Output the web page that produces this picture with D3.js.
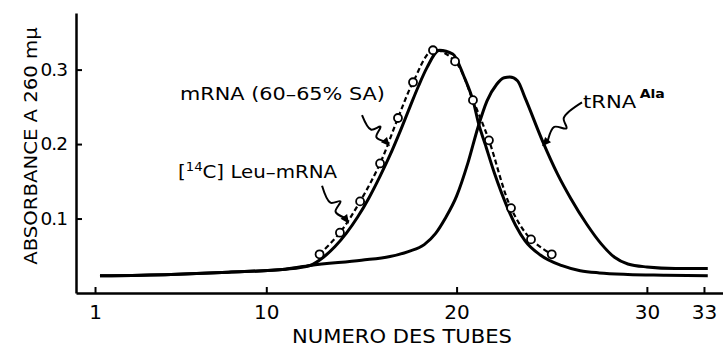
<!DOCTYPE html>
<html lang="fr">
<head>
<meta charset="UTF-8">
<title>Absorbance A 260 - numero des tubes</title>
<script src="https://d3js.org/d3.v7.min.js"></script>
<style>
  body { margin: 0; background: #fff; }
  svg { display: block; font-family: "DejaVu Sans", sans-serif; }
</style>
</head>
<body>
<div id="chart"></div>
<script>
// values (tube number, absorbance at 260 mμ)
const mrnaTube = [1.26, 5, 8, 11, 12.3, 13.0, 13.6, 14.2, 14.8, 15.4, 16.0, 16.5, 17.0, 17.55, 18.0, 18.45, 19.1, 19.8, 20.4, 20.9, 21.15, 21.5, 22.0, 22.65, 23.1, 23.6, 24.4, 25.5, 26.5, 27.5, 29, 31, 33.2];
const mrnaAbs  = [0.023, 0.025, 0.028, 0.032, 0.037, 0.048, 0.062, 0.08, 0.102, 0.128, 0.158, 0.185, 0.215, 0.25, 0.278, 0.303, 0.326, 0.321, 0.29, 0.255, 0.228, 0.2, 0.16, 0.116, 0.091, 0.07, 0.051, 0.037, 0.03, 0.027, 0.025, 0.024, 0.023];

const trnaTube = [1.26, 5, 8, 11, 12.3, 15, 16.5, 17.5, 18.3, 18.9, 19.4, 20.0, 20.6, 21.13, 21.6, 22.1, 22.5, 22.8, 23.2, 23.6, 24.5, 25.3, 26.0, 26.85, 27.6, 28.3, 29.0, 30, 31.5, 33.2];
const trnaAbs  = [0.023, 0.025, 0.028, 0.032, 0.037, 0.044, 0.049, 0.056, 0.065, 0.08, 0.1, 0.13, 0.175, 0.223, 0.258, 0.28, 0.289, 0.29, 0.285, 0.262, 0.205, 0.16, 0.127, 0.092, 0.066, 0.048, 0.039, 0.035, 0.033, 0.033];

// [14C] Leu-mRNA, open circles
const leuTube = [12.8, 13.87, 14.93, 15.98, 16.92, 17.71, 18.76, 19.92, 20.86, 21.7, 22.86, 23.91, 25.0];
const leuAbs  = [0.052, 0.081, 0.123, 0.174, 0.235, 0.283, 0.326, 0.311, 0.259, 0.205, 0.114, 0.072, 0.052];

const xTicks = [1, 10, 20, 30, 33];
const yTicks = [0.1, 0.2, 0.3];

const svg = d3.select('#chart').append('svg')
    .attr('width', 723)
    .attr('height', 348);

const x = d3.scaleLinear().domain([0, 34]).range([76, 723]);
const y = d3.scaleLinear().domain([0, 0.376]).range([293, 13]);

// axes, ticks pointing inwards
svg.append('g')
    .attr('class', 'axis axis--x')
    .attr('transform', `translate(0,${y(0)})`)
    .call(d3.axisBottom(x).tickValues(xTicks).tickSizeInner(-6).tickSizeOuter(0).tickPadding(12));

svg.append('g')
    .attr('class', 'axis axis--y')
    .attr('transform', `translate(${x(0)},0)`)
    .call(d3.axisLeft(y).tickValues(yTicks).tickSizeInner(-6).tickSizeOuter(0).tickPadding(9)
        .tickFormat(d => d.toFixed(1)));

svg.selectAll('.domain').attr('stroke', '#000').attr('stroke-width', 2.5);
svg.selectAll('.tick line').attr('stroke', '#000').attr('stroke-width', 2);
svg.selectAll('.tick text').attr('fill', '#000')
    .style('font-family', '"DejaVu Sans", sans-serif');
svg.selectAll('.axis--x .tick text').style('font-size', '20px');
svg.selectAll('.axis--y .tick text').style('font-size', '18.5px').attr('letter-spacing', -1);

// curves
const line = d3.line().x(d => x(d[0])).y(d => y(d[1])).curve(d3.curveMonotoneX);

svg.append('path')
    .datum(d3.zip(trnaTube, trnaAbs))
    .attr('d', line)
    .attr('fill', 'none').attr('stroke', '#000').attr('stroke-width', 3);

svg.append('path')
    .datum(d3.zip(mrnaTube, mrnaAbs))
    .attr('d', line)
    .attr('fill', 'none').attr('stroke', '#000').attr('stroke-width', 3);

const leu = d3.zip(leuTube, leuAbs);
svg.append('path')
    .datum(leu)
    .attr('d', d3.line().x(d => x(d[0])).y(d => y(d[1])).curve(d3.curveCatmullRom))
    .attr('fill', 'none').attr('stroke', '#000').attr('stroke-width', 2.2)
    .attr('stroke-dasharray', '5,3');

svg.selectAll('.leu')
    .data(leu)
    .enter().append('circle')
    .attr('class', 'leu')
    .attr('cx', d => x(d[0]))
    .attr('cy', d => y(d[1]))
    .attr('r', 4)
    .attr('fill', '#fff').attr('stroke', '#000').attr('stroke-width', 1.8);

// squiggly arrows from labels to curves (data units)
function squiggle(from, to) {
    const s = [x(from[0]), y(from[1])], e = [x(to[0]), y(to[1])];
    const dx = e[0] - s[0], dy = e[1] - s[1], L = Math.hypot(dx, dy);
    const u = [dx / L, dy / L], n = [-u[1], u[0]];
    const p = (f, o) => [s[0] + u[0] * L * f + n[0] * o, s[1] + u[1] * L * f + n[1] * o];
    const pts = [s, p(0.4, 3), p(0.5, -6), p(0.62, 4), p(0.85, 0)];
    svg.append('path')
        .attr('d', d3.line().curve(d3.curveCatmullRom)(pts) + `L${e[0] - u[0] * 6},${e[1] - u[1] * 6}`)
        .attr('fill', 'none').attr('stroke', '#000').attr('stroke-width', 2);
    const b = [e[0] - u[0] * 9, e[1] - u[1] * 9];
    svg.append('path')
        .attr('d', `M${e[0]},${e[1]}L${b[0] + n[0] * 4},${b[1] + n[1] * 4}L${b[0] - n[0] * 4},${b[1] - n[1] * 4}Z`)
        .attr('fill', '#000');
}
squiggle([15.03, 0.239], [16.5, 0.197]);
squiggle([12.93, 0.144], [14.35, 0.093]);
squiggle([26.59, 0.256], [24.49, 0.197]);

// text, stretched horizontally to the width it has in the figure
function fitted(px, py, width, rot, anchor) {
    const g = svg.append('g');
    const t = g.append('text').attr('text-anchor', anchor || 'start').style('font-size', '18px').attr('fill', '#000');
    return {t, done() {
        const w = t.node().getBBox().width;
        g.attr('transform', `translate(${px},${py})` + (rot ? ` rotate(${rot})` : '') + ` scale(${width / w},1)`);
    }};
}

let lab = fitted(x(5.47), y(0.259), 205);
lab.t.text('mRNA (60\u201365% SA)');
lab.done();

lab = fitted(x(5.36), y(0.1544), 160);
lab.t.append('tspan').text('[');
lab.t.append('tspan').text('14').style('font-size', '12px').attr('dy', -7);
lab.t.append('tspan').text('C] Leu\u2013mRNA').attr('dy', 7);
lab.done();

lab = fitted(x(26.64), y(0.2484), 82);
lab.t.append('tspan').text('tRNA');
lab.t.append('tspan').text('Ala').style('font-size', '12px').style('font-weight', 'bold').attr('dx', 3).attr('dy', -10);
lab.done();

lab = fitted(37, 146, 238, -90, 'middle');
lab.t.text('ABSORBANCE A 260 m\u03bc').style('font-size', '17px');
lab.done();

lab = fitted(402, 343, 220, 0, 'middle');
lab.t.text('NUMERO DES TUBES').style('font-size', '20px');
lab.done();
</script>
</body>
</html>
